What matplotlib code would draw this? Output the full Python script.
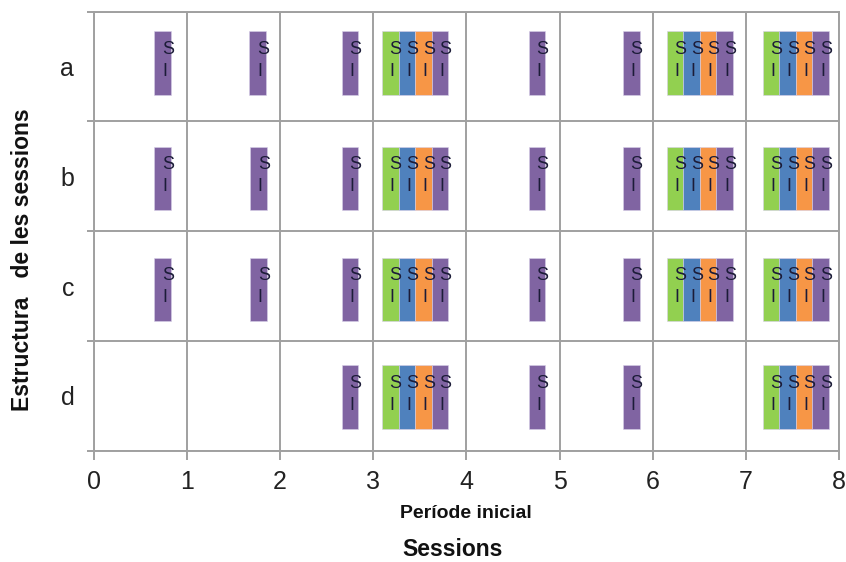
import matplotlib
matplotlib.use("Agg")
import matplotlib.pyplot as plt
from matplotlib.ticker import FixedLocator, NullFormatter, FixedFormatter

plt.rcParams['font.family'] = ['Liberation Sans', 'DejaVu Sans']

# ---- data ----
rows = ['a', 'b', 'c', 'd']
row_centers = [3.53, 2.48, 1.47, 0.49]          # vertical centre of bars in each row
bar_height = 0.58
bar_width = 0.178
single_bars = {                                  # centres of single purple bars
    'a': [0.74, 1.76, 2.75, 4.76, 5.77],
    'b': [0.74, 1.77, 2.75, 4.76, 5.77],
    'c': [0.74, 1.77, 2.75, 4.76, 5.77],
    'd': [2.75, 4.76, 5.77],
}
group_starts = {                                 # left edge of 4-colour groups
    'a': [3.095, 6.15, 7.18],
    'b': [3.095, 6.15, 7.18],
    'c': [3.095, 6.15, 7.18],
    'd': [3.095, 7.18],
}
group_colors = ['#92D050', '#4F81BD', '#F79646', '#8064A2']
single_color = '#8064A2'
bar_label = 'S\nI'
x_ticks = [0, 1, 2, 3, 4, 5, 6, 7, 8]

grid_col = '#A0A0A0'

fig = plt.figure(figsize=(8.46, 5.62), dpi=100)
ax = fig.add_axes([93.7 / 846, 1 - 450.7 / 562, (839 - 93.7) / 846, (450.7 - 11.7) / 562])
ax.set_xlim(0, 8)
ax.set_ylim(0, 4)

def draw_bar(xc, yc, color):
    ax.bar(xc, bar_height, width=bar_width, bottom=yc - bar_height / 2,
           color=color, edgecolor='#D8D0E8', linewidth=0.4, zorder=3)
    ax.text(xc - 0.008, yc + 0.025, bar_label, ha='left', va='center',
            fontsize=13, color='#1c1c38', linespacing=1.38, zorder=4)

for r, yc in zip(rows, row_centers):
    for xc in single_bars[r]:
        draw_bar(xc, yc, single_color)
    for xs in group_starts[r]:
        for k, col in enumerate(group_colors):
            draw_bar(xs + bar_width * (k + 0.5), yc, col)

# grid
ax.xaxis.set_major_locator(FixedLocator(x_ticks))
ax.set_xticklabels([str(t) for t in x_ticks])
ax.yaxis.set_major_locator(FixedLocator([0, 1, 2, 3, 4]))
ax.yaxis.set_major_formatter(NullFormatter())
ax.yaxis.set_minor_locator(FixedLocator([3.5, 2.5, 1.5, 0.5]))
ax.yaxis.set_minor_formatter(FixedFormatter(rows))
ax.grid(True, which='major', color=grid_col, linewidth=1.4, zorder=1)
ax.set_axisbelow(True)

for sp in ax.spines.values():
    sp.set_color(grid_col)
    sp.set_linewidth(1.4)

ax.tick_params(axis='x', which='major', direction='out', length=6.2, width=1.4,
               color=grid_col, labelsize=18, pad=8, labelcolor='#222222')
ax.tick_params(axis='y', which='major', direction='out', length=5.4, width=1.4,
               color=grid_col)
ax.tick_params(axis='y', which='minor', length=0, labelsize=18, pad=14,
               labelcolor='#222222')

fig.text(466 / 846, 1 - 513 / 562, 'Període inicial', ha='center', va='center',
         fontsize=14, fontweight='bold', color='#111111')
fig.text(453 / 846, 1 - 549 / 562, 'Sessions', ha='center', va='center',
         fontsize=16.5, fontweight='bold', color='#111111')
fig.text(22.5 / 846, 1 - 260 / 562, 'Estructura   de les sessions', ha='center',
         va='center', rotation=90, fontsize=16.5, fontweight='bold', color='#111111')

fig.savefig('out.png', dpi=100)
